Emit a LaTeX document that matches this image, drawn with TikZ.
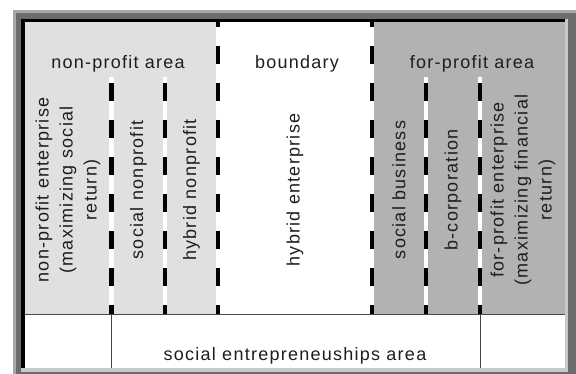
\documentclass[tikz,border=0pt]{standalone}
\usepackage{fontspec}
\setmainfont[LetterSpace=7]{Liberation Sans}
\usepackage{xcolor}

\definecolor{nonprofit}{HTML}{E0E0E0}
\definecolor{forprofit}{HTML}{B2B2B2}
\definecolor{frameouter}{HTML}{A8A8A8}
\definecolor{framedark}{HTML}{6C6C6C}
\definecolor{framelight}{HTML}{C8C8C8}
\definecolor{textgray}{HTML}{1E1E1E}

\tikzset{
  areatitle/.style={font=\fontsize{18}{22}\selectfont, text=textgray, inner sep=0pt, anchor=base},
  coltext/.style={font=\fontsize{18}{24}\selectfont, text=textgray, rotate=90, align=center, inner sep=0pt},
  splitback/.style={white, line width=4.5pt},
  splitdash/.style={black, line width=4.5pt, dash pattern=on 18pt off 19pt},
  rowline/.style={black!72, line width=1.3pt}
}

\begin{document}
\begin{tikzpicture}[x=1pt,y=-1pt]
\useasboundingbox (0,0) rectangle (576,374);

% Sunken window frame
\fill[frameouter] (13,10) rectangle (576,374);
\fill[framedark] (16,13) rectangle (576,374);
\fill[framelight] (21,19.5) rectangle (568,372);
\fill[black] (21,19.5) rectangle (565,368);

% The three areas and the bottom row
\fill[nonprofit] (25,22) rectangle (218,314);
\fill[white] (218,22) rectangle (372,314);
\fill[forprofit] (372,22) rectangle (565,314);
\fill[white] (25,314) rectangle (565,368);

% Area titles
\node[areatitle] (nparea) at (118,68.5) {non-profit area};
\node[areatitle] (bdarea) at (297,68.5) {boundary};
\node[areatitle] (fparea) at (472,68.5) {for-profit area};

% Dashed separators inside the areas
\foreach \x in {111.5,165,426,480} {
    \draw[splitback] (\x,77) -- (\x,314);
    \draw[splitdash, dash phase=31pt] (\x,77) -- (\x,314);
}
% Dashed borders of the boundary area
\foreach \x in {218,372} {
    \draw[splitback] (\x,22) -- (\x,314);
    \draw[splitdash, dash phase=13pt] (\x,22) -- (\x,314);
}

% Column labels
\node[coltext] (npent) at (68,190) {non-profit enterprise\\(maximizing social\\return)};
\node[coltext] (socnp) at (138.5,190) {social nonprofit};
\node[coltext] (hybnp) at (191.5,190) {hybrid nonprofit};
\node[coltext] (hybent) at (295,190) {hybrid enterprise};
\node[coltext] (socbus) at (399,190) {social business};
\node[coltext] (bcorp) at (453,190) {b-corporation};
\node[coltext] (fpent) at (523,190) {for-profit enterprise\\(maximizing financial\\return)};

% Bottom row
\draw[rowline] (25,314.5) -- (565,314.5);
\draw[rowline, line width=1pt] (111.5,315) -- (111.5,368);
\draw[rowline, line width=1pt] (480,315) -- (480,368);
\node[areatitle] (sea) at (295,360) {social entrepreneuships area};
\end{tikzpicture}
\end{document}
